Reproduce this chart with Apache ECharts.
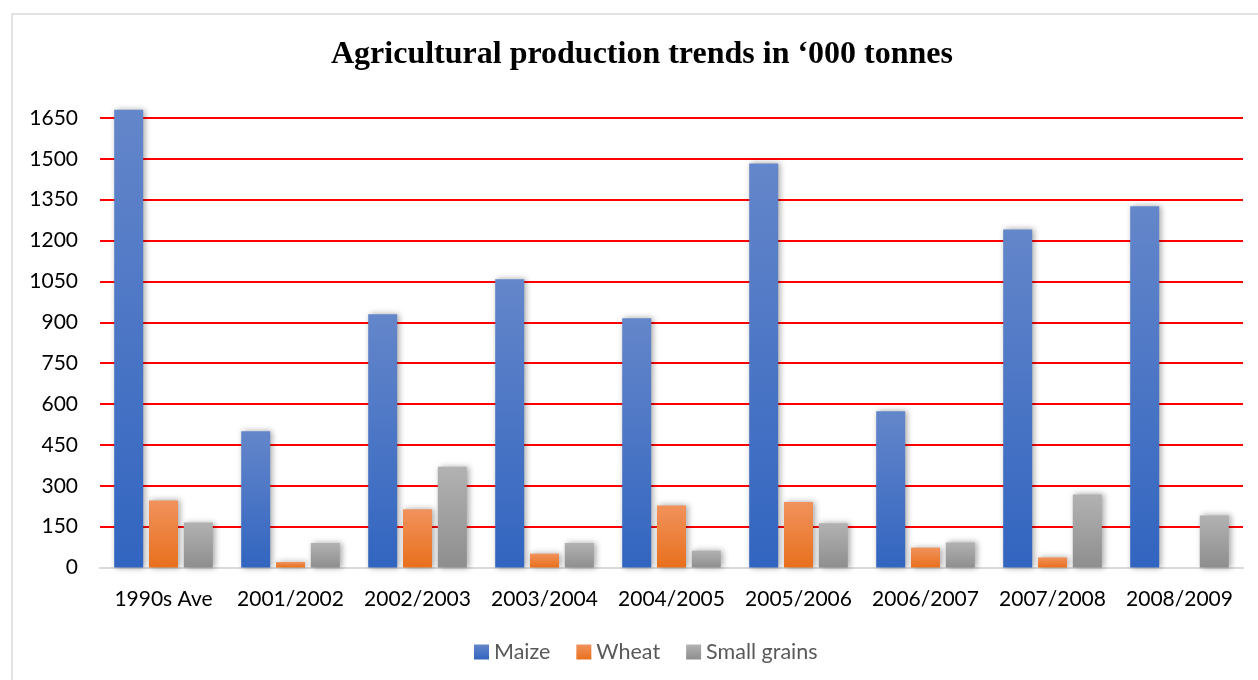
<!DOCTYPE html>
<html>
<head>
<meta charset="utf-8">
<script src="https://cdn.jsdelivr.net/npm/echarts@6/dist/echarts.min.js"></script>
<style>
  html, body { margin: 0; padding: 0; background: #fff; }
  #chart { width: 1258px; height: 680px; }
</style>
</head>
<body>
<div id="chart"></div>
<script>
// Production in '000 tonnes per season
const seasons = ['1990s Ave', '2001/2002', '2002/2003', '2003/2004', '2004/2005',
                 '2005/2006', '2006/2007', '2007/2008', '2008/2009'];
const maize       = [1680, 500, 930, 1058, 915, 1483, 574, 1241, 1326];
const wheat       = [246, 20, 214, 51, 228, 240, 73, 37, 0];
const smallGrains = [165, 90, 370, 90, 62, 162, 92, 268, 191];
const yTicks = { min: 0, max: 1650, step: 150 };

const labelFont = 'Lato';

function vGrad(top, bottom) {
  return new echarts.graphic.LinearGradient(0, 0, 0, 1, [
    { offset: 0, color: top },
    { offset: 1, color: bottom }
  ]);
}

const barShadow = {
  shadowBlur: 6,
  shadowColor: 'rgba(0,0,0,0.35)',
  shadowOffsetX: 2,
  shadowOffsetY: 0
};

function barSeries(name, data, top, bottom) {
  return {
    name: name,
    type: 'bar',
    data: data,
    barWidth: 29,
    barGap: '20%',
    clip: false,
    itemStyle: Object.assign({ color: vGrad(top, bottom) }, barShadow)
  };
}

const chart = echarts.init(document.getElementById('chart'));
chart.setOption({
  animation: false,
  backgroundColor: '#ffffff',
  graphic: [{
    type: 'rect',
    shape: { x: 12, y: 14, width: 1300, height: 720 },
    style: { fill: 'none', stroke: '#d9d9d9', lineWidth: 1.5 },
    silent: true,
    z: -10
  }],
  title: {
    text: 'Agricultural production trends in \u2018000 tonnes',
    left: 326,
    top: 34,
    textStyle: {
      fontFamily: 'Liberation Serif',
      fontWeight: 'bold',
      fontSize: 32,
      color: '#000000'
    }
  },
  legend: {
    bottom: 12,
    left: 469,
    icon: 'rect',
    itemWidth: 15,
    itemHeight: 15,
    itemGap: 26,
    textStyle: { fontFamily: labelFont, fontSize: 21.5, color: '#595959' },
    itemStyle: { shadowBlur: 0, shadowOffsetX: 0 },
    data: ['Maize', 'Wheat', 'Small grains']
  },
  grid: { left: 100, right: 15, top: 118, bottom: 112.5, containLabel: false },
  xAxis: {
    type: 'category',
    data: seasons,
    axisTick: { show: false },
    axisLine: { show: true, lineStyle: { color: '#d9d9d9', width: 2 } },
    axisLabel: { interval: 0, fontFamily: labelFont, fontSize: 21, color: '#000000', margin: 21 }
  },
  yAxis: {
    type: 'value',
    min: yTicks.min,
    max: yTicks.max,
    interval: yTicks.step,
    axisLine: { show: false },
    axisTick: { show: false },
    axisLabel: {
      fontFamily: labelFont, fontSize: 21, color: '#000000', margin: 22,
      formatter: function (v) { return String(v); }
    },
    splitLine: { show: true, lineStyle: { color: '#ff0000', width: 2 } }
  },
  series: [
    barSeries('Maize', maize, '#6486ca', '#3265c0'),
    barSeries('Wheat', wheat, '#f1925c', '#e8701d'),
    barSeries('Small grains', smallGrains, '#b2b2b2', '#8e8e8e')
  ]
});
</script>
</body>
</html>
